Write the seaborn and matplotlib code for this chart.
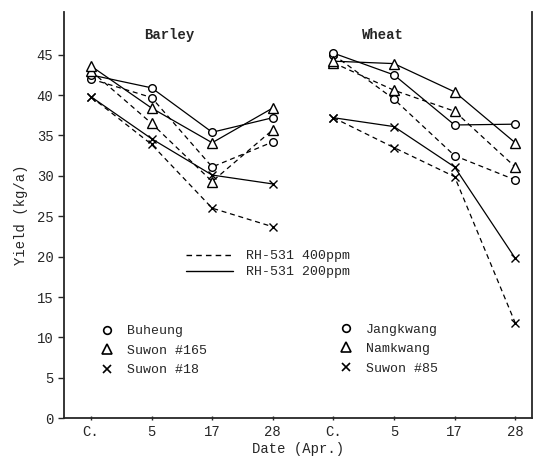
import pandas as pd
import matplotlib.pyplot as plt
import seaborn as sns
from matplotlib.lines import Line2D

# Yield (kg/a); dates C., 5, 17, 28 April
dates = ['C.', '5', '17', '28']
crops = ['Barley', 'Wheat']
varieties = {
    'Barley': ['Buheung', 'Suwon #165', 'Suwon #18'],
    'Wheat': ['Jangkwang', 'Namkwang', 'Suwon #85'],
}
doses = ['RH-531 400ppm', 'RH-531 200ppm']

barley_buheung_400 = [42.0, 39.7, 31.1, 34.2]
barley_buheung_200 = [42.5, 40.9, 35.4, 37.2]
barley_suwon165_400 = [43.0, 36.5, 29.3, 35.7]
barley_suwon165_200 = [43.6, 38.4, 34.1, 38.4]
barley_suwon18_400 = [39.8, 33.9, 26.0, 23.7]
barley_suwon18_200 = [39.8, 34.6, 30.1, 29.0]

wheat_jangkwang_400 = [45.0, 39.5, 32.5, 29.5]
wheat_jangkwang_200 = [45.2, 42.5, 36.3, 36.4]
wheat_namkwang_400 = [44.0, 40.6, 38.0, 31.1]
wheat_namkwang_200 = [44.2, 43.9, 40.4, 34.1]
wheat_suwon85_400 = [37.2, 33.5, 29.9, 11.8]
wheat_suwon85_200 = [37.2, 36.1, 31.1, 19.8]

series = {
    ('Barley', 'Buheung', doses[0]): barley_buheung_400,
    ('Barley', 'Buheung', doses[1]): barley_buheung_200,
    ('Barley', 'Suwon #165', doses[0]): barley_suwon165_400,
    ('Barley', 'Suwon #165', doses[1]): barley_suwon165_200,
    ('Barley', 'Suwon #18', doses[0]): barley_suwon18_400,
    ('Barley', 'Suwon #18', doses[1]): barley_suwon18_200,
    ('Wheat', 'Jangkwang', doses[0]): wheat_jangkwang_400,
    ('Wheat', 'Jangkwang', doses[1]): wheat_jangkwang_200,
    ('Wheat', 'Namkwang', doses[0]): wheat_namkwang_400,
    ('Wheat', 'Namkwang', doses[1]): wheat_namkwang_200,
    ('Wheat', 'Suwon #85', doses[0]): wheat_suwon85_400,
    ('Wheat', 'Suwon #85', doses[1]): wheat_suwon85_200,
}

rows = []
for (crop, var, dose), vals in series.items():
    offset = crops.index(crop) * len(dates)
    for i, v in enumerate(vals):
        rows.append({'crop': crop, 'variety': var, 'dose': dose,
                     'pos': offset + i, 'yield': v})
df = pd.DataFrame(rows)

sns.set_style('ticks')
plt.rcParams['font.family'] = ['Liberation Mono', 'DejaVu Sans Mono']

marker_for = ['o', '^', 'x']
msize = {'o': 5.5, '^': 6.5, 'x': 6}
dash_for = {doses[0]: (0, (4, 3)), doses[1]: '-'}

fig = plt.figure(figsize=(5.37, 4.58), dpi=100)
ax = fig.add_axes([0.119, 0.087, 0.872, 0.887])

for (crop, var, dose), grp in df.groupby(['crop', 'variety', 'dose'], sort=False):
    m = marker_for[varieties[crop].index(var)]
    sns.lineplot(data=grp, x='pos', y='yield', ax=ax, color='black',
                 linewidth=0.9, linestyle=dash_for[dose], marker=m,
                 markersize=msize[m],
                 markerfacecolor='white', markeredgecolor='black',
                 markeredgewidth=1.0, legend=False)

ax.set_xlim(-0.446, 7.28)
ax.set_ylim(0, 50.3)
ax.set_xticks(range(len(dates) * 2))
ax.set_xticklabels(dates * 2, fontsize=10)
ax.set_yticks(range(0, 50, 5))
ax.set_yticklabels([str(v) for v in range(0, 50, 5)], fontsize=10)
ax.tick_params(axis='y', direction='out', length=4, width=1)
ax.tick_params(axis='x', direction='inout', length=3, width=1)
ax.spines['top'].set_visible(False)
for s in ['left', 'right', 'bottom']:
    ax.spines[s].set_linewidth(1.3)

ax.set_xlabel('Date (Apr.)', fontsize=10, labelpad=2)
ax.set_ylabel('Yield (kg/a)', fontsize=10, labelpad=6)

ax.text(1.3, 47.5, 'Barley', ha='center', va='center', fontsize=10, fontweight='bold')
ax.text(4.82, 47.5, 'Wheat', ha='center', va='center', fontsize=10, fontweight='bold')

# legends, placed as separate artists
dose_handles = [Line2D([], [], color='black', linewidth=1.0, linestyle=dash_for[d]) for d in doses]
legends = [ax.legend(dose_handles, doses, loc='upper left', bbox_to_anchor=(0.325, 0.48),
                     bbox_transform=fig.transFigure, frameon=False, fontsize=9.5,
                     handlelength=3.5, handletextpad=1.0, labelspacing=0.3)]

for crop, anchor in zip(crops, [(0.165, 0.316), (0.61, 0.32)]):
    handles = [Line2D([], [], color='black', linestyle='none', marker=m,
                      markersize=msize[m], markerfacecolor='white',
                      markeredgewidth=1.2) for m in marker_for]
    legends.append(ax.legend(handles, varieties[crop], loc='upper left', bbox_to_anchor=anchor,
                             bbox_transform=fig.transFigure, frameon=False, fontsize=9.5,
                             handlelength=1.0, handletextpad=1.0, labelspacing=0.55))
ax.legend_ = None
for lg in legends:
    ax.add_artist(lg)

fig.savefig('out.png', dpi=100)
